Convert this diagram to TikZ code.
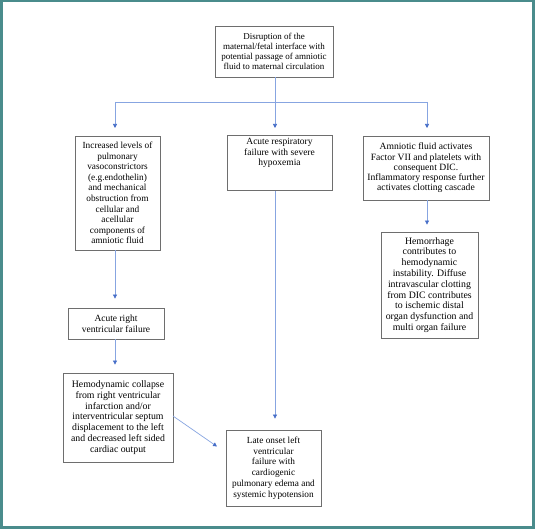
\documentclass[tikz,border=0pt]{standalone}
\usepackage{fontspec}
\setmainfont{Liberation Serif}
\usetikzlibrary{arrows.meta}
\definecolor{frameteal}{RGB}{74,140,140}
\definecolor{linkblue}{RGB}{135,165,225}
\definecolor{tipblue}{RGB}{70,110,200}
\definecolor{boxgray}{RGB}{110,110,110}
\begin{document}
\begin{tikzpicture}[x=1pt,y=-1pt,
  box/.style={draw=boxgray,line width=0.8pt,align=center,inner sep=0pt,
    font=\fontsize{9.5}{10.7}\selectfont,text=black},
  link/.style={draw=linkblue,line width=0.7pt,
    -{Triangle[width=4pt,length=4pt,color=tipblue]}},
  plain/.style={draw=linkblue,line width=0.7pt}]
\useasboundingbox (0,0) rectangle (535,529);
\fill[white] (0,0) rectangle (535,529);
\fill[frameteal] (0,0) rectangle (2.5,529);
\fill[frameteal] (0,0) rectangle (535,2.5);
\fill[frameteal] (532,0) rectangle (535,529);
\fill[frameteal] (0,526) rectangle (535,529);

\node[box,font=\fontsize{9}{9.9}\selectfont,minimum width=118pt,minimum height=51pt] (top) at (274,51.5)
  {Disruption of the\\maternal/fetal interface with\\potential passage of amniotic\\fluid to maternal circulation};
\node[box,font=\fontsize{9.3}{10.6}\selectfont,minimum width=85pt,minimum height=114pt] (left) at (117.5,193)
  {Increased levels of\\pulmonary\\vasoconstrictors\\(e.g.endothelin)\\and mechanical\\obstruction from\\cellular and\\acellular\\components of\\amniotic fluid};
\node[box,minimum width=105pt,minimum height=47pt,anchor=north] (mid) at (279.5,135)
  {\rule{0pt}{9pt}Acute respiratory\\failure with severe\\hypoxemia\\[14pt]};
\node[box,font=\fontsize{9.6}{10.2}\selectfont,minimum width=126pt,minimum height=64pt] (right) at (426,168)
  {Amniotic fluid activates\\Factor VII and platelets with\\consequent DIC.\\Inflammatory response further\\activates clotting cascade};
\node[box,font=\fontsize{9.8}{10.8}\selectfont,minimum width=97pt,minimum height=106pt] (hem) at (429.5,285)
  {Hemorrhage\\contributes to\\hemodynamic\\instability. Diffuse\\intravascular clotting\\from DIC contributes\\to ischemic distal\\organ dysfunction and\\multi organ failure};
\node[box,minimum width=96pt,minimum height=31pt] (arv) at (116,323.5)
  {Acute right\\ventricular failure};
\node[box,font=\fontsize{9.8}{10.8}\selectfont,minimum width=110pt,minimum height=89pt] (hdc) at (118,417.5)
  {Hemodynamic collapse\\from right ventricular\\infarction and/or\\interventricular septum\\displacement to the left\\and decreased left sided\\cardiac output};
\node[box,font=\fontsize{9.3}{10.7}\selectfont,minimum width=95pt,minimum height=76pt] (late) at (273.5,468)
  {Late onset left\\ventricular\\failure with\\cardiogenic\\pulmonary edema and\\systemic hypotension};

\coordinate (j) at (275,102);
\coordinate (jl) at (115,102);
\coordinate (jr) at (427,102);
\coordinate (tl) at (115,128);
\coordinate (tm) at (275,128);
\coordinate (tr) at (427,128);
\draw[plain] (top.south -| j) -- (j);
\draw[plain] (jl) -- (jr);
\draw[link] (jl) -- (tl);
\draw[link] (j) -- (tm);
\draw[link] (jr) -- (tr);

\draw[link,shorten >=9pt] (left.south -| tl) -- (arv.north -| tl);
\draw[link,shorten >=8pt] (arv.south -| tl) -- (hdc.north -| tl);
\draw[link,shorten >=11pt] (mid.south -| tm) -- (late.north -| tm);
\draw[link,shorten >=7pt] (right.south -| tr) -- (hem.north -| tr);
\coordinate (ds) at (173,416);
\coordinate (de) at (217,446.5);
\draw[link] (ds) -- (de);
\end{tikzpicture}
\end{document}
